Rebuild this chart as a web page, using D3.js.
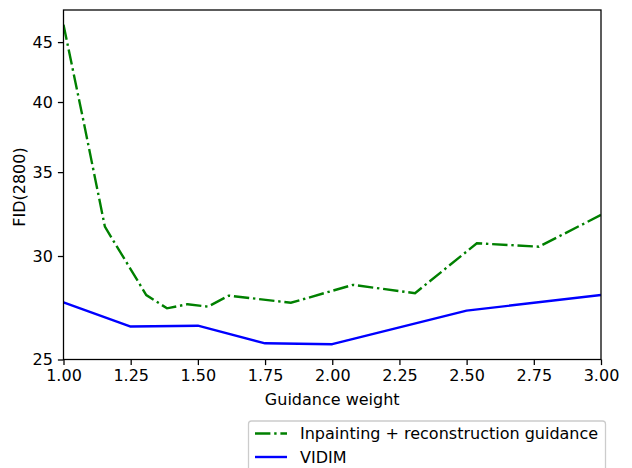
<!DOCTYPE html>
<html>
<head>
<meta charset="utf-8">
<script src="https://cdn.jsdelivr.net/npm/d3@7"></script>
<style>
  html, body { margin: 0; padding: 0; background: #fff; }
  text { font-family: "DejaVu Sans", sans-serif; fill: #000; }
</style>
</head>
<body>
<svg id="chart" width="632" height="468"></svg>
<script>
// ---- data ----
const xGreen = [1.0, 1.077, 1.154, 1.308, 1.385, 1.462, 1.538, 1.615, 1.846, 2.077, 2.308, 2.538, 2.769, 3.0];
const yGreen = [46.6, 38.3, 31.64, 27.98, 27.33, 27.53, 27.41, 27.95, 27.6, 28.49, 28.07, 30.70, 30.51, 32.33];
const xBlue = [1.0, 1.25, 1.5, 1.75, 2.0, 2.5, 3.0];
const yBlue = [27.62, 26.47, 26.51, 25.71, 25.67, 27.22, 27.98];
const xTicks = [1.0, 1.25, 1.5, 1.75, 2.0, 2.25, 2.5, 2.75, 3.0];
const yTicks = [25, 30, 35, 40, 45];
const seriesNames = ["Inpainting + reconstruction guidance", "VIDIM"];
const xLabel = "Guidance weight";
const yLabel = "FID(2800)";

// ---- layout ----
const L = 63.5, R = 601, T = 10, B = 359.5;
const svg = d3.select("#chart");
svg.append("rect").attr("width", 632).attr("height", 468).attr("fill", "#fff");

const x = d3.scaleLinear().domain([1, 3]).range([L, R]);
const y = d3.scalePow().exponent(-0.25).domain([25, 48]).range([B, T]);

const line = d3.line().x(d => x(d[0])).y(d => y(d[1]));
const g = svg.append("g");

const greenData = xGreen.map((v, i) => [v, yGreen[i]]);
const blueData = xBlue.map((v, i) => [v, yBlue[i]]);

const clip = svg.append("clipPath").attr("id", "clip")
  .append("rect").attr("x", L).attr("y", T).attr("width", R - L).attr("height", B - T);

g.append("path").datum(greenData).attr("d", line)
  .attr("fill", "none").attr("stroke", "#008000").attr("stroke-width", 2.4)
  .attr("stroke-dasharray", "15.4,3.8,2.4,3.8").attr("clip-path", "url(#clip)");
g.append("path").datum(blueData).attr("d", line)
  .attr("fill", "none").attr("stroke", "#0000ff").attr("stroke-width", 2.4)
  .attr("stroke-linejoin", "round").attr("clip-path", "url(#clip)");

// axes
const xAxis = d3.axisBottom(x).tickValues(xTicks).tickFormat(d3.format(".2f")).tickSize(5.6).tickPadding(5);
const yAxis = d3.axisLeft(y).tickValues(yTicks).tickFormat(d3.format("d")).tickSize(5.6).tickPadding(5);

const gx = svg.append("g").attr("transform", `translate(0,${B})`).call(xAxis);
const gy = svg.append("g").attr("transform", `translate(${L},0)`).call(yAxis);
[gx, gy].forEach(a => {
  a.select(".domain").remove();
  a.selectAll("line").attr("stroke", "#000").attr("stroke-width", 1.28);
  a.selectAll("text").attr("font-size", 16).attr("font-family", "DejaVu Sans").attr("fill", "#000");
});

// spines
svg.append("rect").attr("x", L).attr("y", T).attr("width", R - L).attr("height", B - T)
  .attr("fill", "none").attr("stroke", "#000").attr("stroke-width", 1.28);

// labels
svg.append("text").attr("x", (L + R) / 2).attr("y", 405).attr("text-anchor", "middle")
  .attr("font-size", 16).text(xLabel);
svg.append("text").attr("transform", `translate(25,187) rotate(-90)`).attr("text-anchor", "middle")
  .attr("font-size", 16).text(yLabel);

// legend
const lg = svg.append("g");
lg.append("rect").attr("x", 248.5).attr("y", 421).attr("width", 357).attr("height", 62).attr("rx", 3)
  .attr("fill", "#fff").attr("fill-opacity", 0.8).attr("stroke", "#cccccc").attr("stroke-width", 1.28);
const legendItems = [
  {name: seriesNames[0], color: "#008000", dash: "15.4,3.8,2.4,3.8", yy: 433.5},
  {name: seriesNames[1], color: "#0000ff", dash: null, yy: 457}
];
legendItems.forEach(it => {
  lg.append("line").attr("x1", 255).attr("x2", 287).attr("y1", it.yy).attr("y2", it.yy)
    .attr("stroke", it.color).attr("stroke-width", 2.4)
    .attr("stroke-dasharray", it.dash);
  lg.append("text").attr("x", 300).attr("y", it.yy + 5.8).attr("font-size", 16).text(it.name);
});
</script>
</body>
</html>
